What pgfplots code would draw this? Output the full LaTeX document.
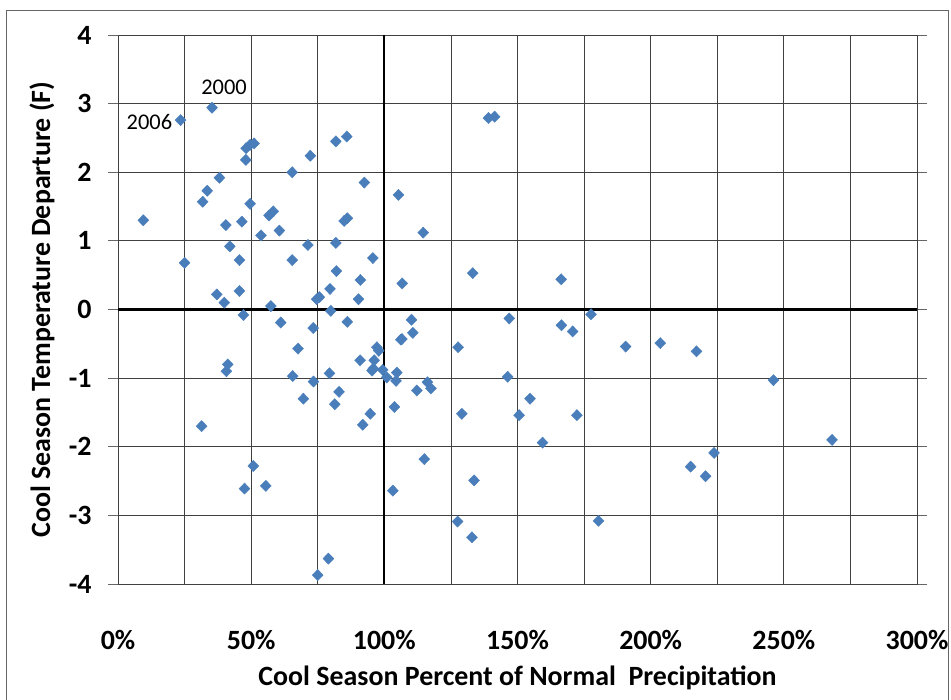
\documentclass[border=0pt]{standalone}
\usepackage{pgfplots}
\pgfplotsset{compat=1.18}
\usepackage{fontspec}
\setmainfont{Carlito}
\definecolor{mk}{HTML}{4A7EBB}
\begin{document}
\begin{tikzpicture}[x=1bp,y=1bp]
\useasboundingbox (-118,-116) rectangle (833,584);
\draw[black!60, line width=1bp] (-111,-120) -- (-111,573) -- (830,573) -- (830,-120);
\begin{axis}[
  at={(0,0)}, anchor=south west,
  scale only axis, width=799bp, height=549bp,
  xmin=0, xmax=300, ymin=-4, ymax=4,
  xtick={0,50,...,300}, minor xtick={25,75,...,275},
  ytick={-4,-3,...,4},
  xticklabels={0\%,50\%,100\%,150\%,200\%,250\%,300\%},
  yticklabels={-4,-3,-2,-1,0,1,2,3,4},
  grid=both,
  major grid style={black!75, line width=0.8bp},
  minor grid style={black!75, line width=0.8bp},
  axis line style={black!75, line width=0.8bp},
  tick align=outside, major tick length=10bp, minor tick length=0pt,
  xtick style={draw=none},
  ytick style={black!60, line width=0.8bp},
  x tick label style={font=\fontsize{28}{32}\selectfont\bfseries, anchor=center, yshift=-46bp},
  y tick label style={font=\fontsize{28}{32}\selectfont\bfseries, xshift=-13bp},
  xlabel={Cool Season Percent of Normal\ \ Precipitation},
  ylabel={Cool Season Temperature Departure (F)},
  every axis x label/.style={at={(axis description cs:0.5,0)}, anchor=center, yshift=-94bp, font=\fontsize{28}{32}\selectfont\bfseries},
  every axis y label/.style={at={(axis description cs:-0.0951,0.5)}, rotate=90, anchor=center, font=\fontsize{28}{32}\selectfont\bfseries},
  clip=false,
]
\addplot[black, line width=2.2bp, forget plot] coordinates {(0,0) (300,0)};
\addplot[black, line width=2.2bp, forget plot] coordinates {(100,-4) (100,4)};
\addplot[only marks, mark=diamond*, mark size=5.6bp, mark options={xscale=1.3, fill=mk, draw=mk}] table {
x y
9.5 1.30
23.5 2.76
35.3 2.94
25.0 0.68
48.0 2.18
48.1 2.35
49.6 2.40
51.1 2.42
72.2 2.24
81.8 2.45
85.9 2.52
65.4 2.00
92.5 1.85
38.1 1.92
33.5 1.73
31.8 1.57
49.6 1.54
40.5 1.23
46.5 1.28
56.7 1.37
58.3 1.43
53.7 1.08
60.6 1.15
84.9 1.29
86.1 1.33
42.0 0.92
71.3 0.94
81.8 0.97
45.6 0.72
65.4 0.72
95.7 0.75
82.0 0.56
37.1 0.22
39.9 0.10
45.6 0.27
79.6 0.30
74.6 0.15
75.6 0.18
91.0 0.43
90.3 0.15
57.4 0.05
47.1 -0.08
61.1 -0.19
79.9 -0.02
86.1 -0.18
73.3 -0.27
67.6 -0.57
97.2 -0.55
97.9 -0.60
41.2 -0.80
40.7 -0.90
90.9 -0.74
96.2 -0.74
95.4 -0.89
95.9 -0.86
99.4 -0.88
100.9 -0.99
65.6 -0.97
73.4 -1.05
79.4 -0.93
69.6 -1.30
83.0 -1.20
81.4 -1.38
94.7 -1.52
91.9 -1.68
31.4 -1.70
50.8 -2.28
47.5 -2.61
55.5 -2.57
79.0 -3.63
75.0 -3.87
139.1 2.79
141.4 2.81
105.3 1.67
114.6 1.12
106.7 0.38
133.2 0.53
166.4 0.44
110.2 -0.15
110.7 -0.34
106.2 -0.44
106.6 -0.43
104.7 -0.92
104.4 -1.04
116.2 -1.06
117.5 -1.15
112.2 -1.18
103.8 -1.42
127.7 -0.55
146.9 -0.13
146.3 -0.98
129.1 -1.52
154.7 -1.30
150.6 -1.54
172.3 -1.54
159.4 -1.94
166.5 -0.23
170.7 -0.32
177.6 -0.07
190.6 -0.54
115.0 -2.18
103.2 -2.64
133.7 -2.49
127.5 -3.09
132.9 -3.32
180.4 -3.08
203.6 -0.49
217.2 -0.61
246.1 -1.03
268.1 -1.90
223.8 -2.09
215.0 -2.29
220.6 -2.43
};
\node[font=\fontsize{22.5}{26}\selectfont] at (axis cs:11.8,2.73) {2006};
\node[font=\fontsize{22.5}{26}\selectfont] at (axis cs:39.8,3.24) {2000};
\end{axis}
\end{tikzpicture}
\end{document}
